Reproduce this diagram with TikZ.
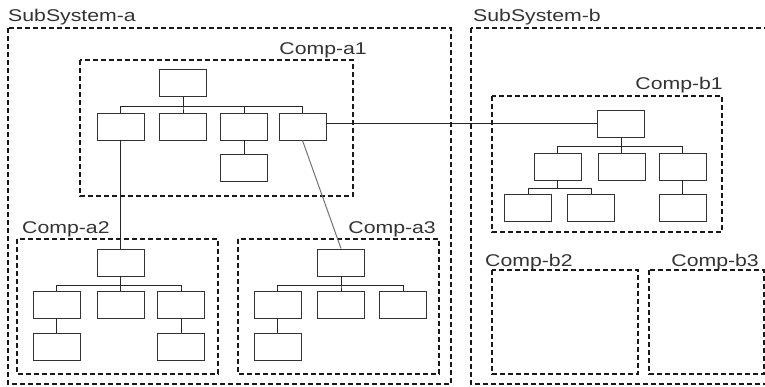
\documentclass[tikz,border=0pt]{standalone}
\usepackage{fontspec}
\newfontfamily\labfont[FakeStretch=1.25]{Liberation Sans}
\begin{document}
\begin{tikzpicture}[x=1pt,y=-1pt,
  box/.style={draw=black!80, line width=0.9pt, minimum width=47pt, minimum height=27pt, inner sep=0pt},
  grp/.style={draw=black!90, line width=1.1pt, dash pattern=on 5pt off 3pt},
  lab/.style={font=\labfont\fontsize{17}{20}\selectfont, text=black!80, inner sep=0pt},
  link/.style={draw=black!85, line width=0.9pt},
  glink/.style={draw=black!55, line width=1pt}]
\clip (0,0) rectangle (765,387);
\fill[white] (0,0) rectangle (765,387);
% groups
\draw[grp] (8,28) rectangle (451,384);
\draw[grp] (471,28) rectangle (780,384);
\draw[grp] (80,60) rectangle (353,196);
\draw[grp] (17,239) rectangle (218,374);
\draw[grp] (238,239) rectangle (439,374);
\draw[grp] (492,96) rectangle (722,232);
\draw[grp] (492,270) rectangle (638,374);
\draw[grp] (649,270) rectangle (764,374);
% labels
\node[lab, anchor=base west] (lsa) at (8,22) {SubSystem-a};
\node[lab, anchor=base west] (lsb) at (473,22) {SubSystem-b};
\node[lab, anchor=base east] (la1) at (367,55) {Comp-a1};
\node[lab, anchor=base west] (la2) at (22,234) {Comp-a2};
\node[lab, anchor=base east] (la3) at (436,234) {Comp-a3};
\node[lab, anchor=base east] (lb1) at (723,90) {Comp-b1};
\node[lab, anchor=base west] (lb2) at (485,266) {Comp-b2};
\node[lab, anchor=base east] (lb3) at (759,266) {Comp-b3};
% Comp-a1
\node[box] (a1t) at (183,83) {};
\node[box] (a1c1) at (120.5,126.5) {};
\node[box] (a1c2) at (183,126.5) {};
\node[box] (a1c3) at (244,126.5) {};
\node[box] (a1c4) at (302.5,126.5) {};
\node[box] (a1g3) at (244,168) {};
\foreach \c in {a1c1,a1c2,a1c3,a1c4} \draw[link] (a1t.south) -- ++(0,10) -| (\c.north);
\draw[link] (a1c3.south) -- (a1g3.north);
% Comp-a2
\node[box] (a2t) at (120.5,262.5) {};
\node[box] (a2c1) at (56.5,304.5) {};
\node[box] (a2c2) at (120.5,304.5) {};
\node[box] (a2c3) at (181,304.5) {};
\node[box] (a2g1) at (56.5,346.5) {};
\node[box] (a2g3) at (181,346.5) {};
\foreach \c in {a2c1,a2c2,a2c3} \draw[link] (a2t.south) -- ++(0,9) -| (\c.north);
\draw[link] (a2c1.south) -- (a2g1.north);
\draw[link] (a2c3.south) -- (a2g3.north);
% Comp-a3
\node[box] (a3t) at (341,262.5) {};
\node[box] (a3c1) at (277.5,304.5) {};
\node[box] (a3c2) at (341,304.5) {};
\node[box] (a3c3) at (403,304.5) {};
\node[box] (a3g1) at (277.5,346.5) {};
\foreach \c in {a3c1,a3c2,a3c3} \draw[link] (a3t.south) -- ++(0,9) -| (\c.north);
\draw[link] (a3c1.south) -- (a3g1.north);
% Comp-b1
\node[box] (b1t) at (621,123.5) {};
\node[box] (b1c1) at (557.5,166.5) {};
\node[box] (b1c2) at (621.5,166.5) {};
\node[box] (b1c3) at (682.5,166.5) {};
\node[box] (b1g1) at (528,208) {};
\node[box] (b1g2) at (591,208) {};
\node[box] (b1g3) at (682.5,208) {};
\foreach \c in {b1c1,b1c2,b1c3} \draw[link] (b1t.south) -- ++(0,9) -| (\c.north);
\foreach \c in {b1g1,b1g2} \draw[link] (b1c1.south) -- ++(0,8) -| (\c.north);
\draw[link] (b1c3.south) -- (b1g3.north);
% cross links
\draw[link] (a1c1.south) -- (a2t.north);
\draw[glink] (a1c4.south) -- (a3t.north);
\draw[link] (a1c4.east |- b1t.west) -- (b1t.west);
\end{tikzpicture}
\end{document}
